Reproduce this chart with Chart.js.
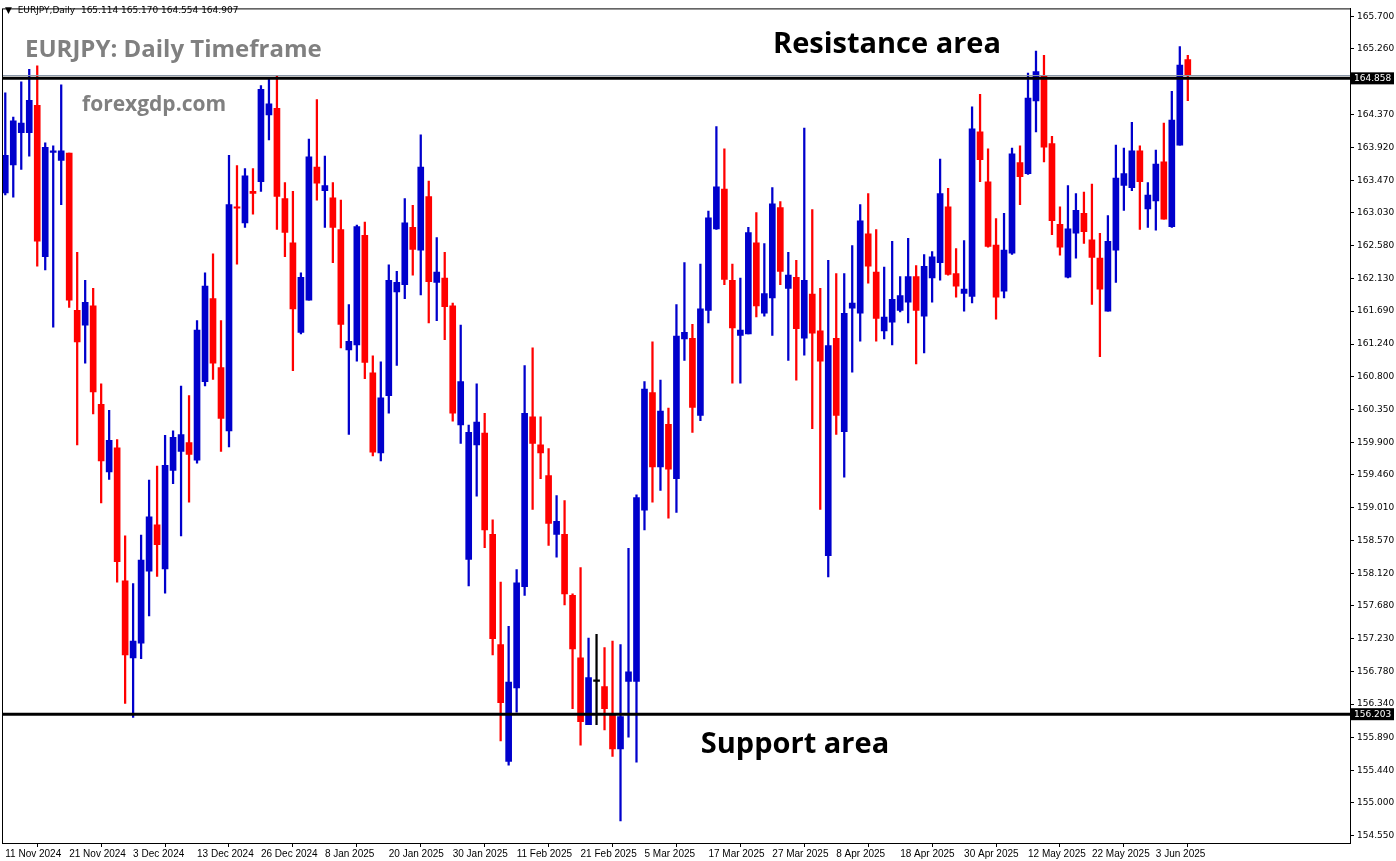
<!DOCTYPE html>
<html>
<head>
<meta charset="utf-8">
<script src="https://cdn.jsdelivr.net/npm/chart.js@4.4.1/dist/chart.umd.min.js"></script>
<style>
body{margin:0;background:#fff;}
canvas{display:block;}
</style>
</head>
<body>
<canvas id="mycanvas" width="1396" height="861"></canvas>
<script>
// daily candles, EURJPY, from 11 Nov 2024 (weekdays)
var opens = [163.30,163.68,164.12,164.12,164.49,162.43,163.85,163.74,163.84,161.70,161.50,161.76,160.42,159.50,159.83,158.02,156.97,157.17,158.15,158.78,
158.18,159.52,159.78,159.90,159.66,160.73,161.86,160.92,160.06,163.11,162.89,163.32,163.45,164.36,164.45,163.22,162.62,161.40,161.84,163.65,
163.33,163.23,162.80,161.16,161.23,162.72,160.85,159.76,160.54,161.95,162.05,162.83,162.52,163.25,162.08,162.14,161.76,160.14,158.31,159.87,
160.03,158.65,157.15,155.56,156.56,157.94,160.25,159.87,159.45,158.65,158.65,157.82,156.97,156.06,156.66,156.58,156.21,155.73,156.65,156.65,
158.98,160.58,159.57,160.15,159.41,161.31,161.32,160.27,161.70,162.81,163.35,162.11,161.36,161.38,162.62,161.66,161.87,163.10,162.00,162.15,
161.32,161.92,161.42,158.36,161.32,160.05,161.73,161.66,162.74,162.22,161.42,161.54,161.70,161.81,162.16,161.62,162.14,162.35,163.11,162.20,
161.93,161.89,164.13,163.45,162.59,161.96,162.48,163.71,163.56,164.55,164.90,163.97,162.87,162.15,162.75,163.02,162.66,162.41,161.69,162.52,
163.40,163.37,163.87,163.08,163.19,163.72,162.84,163.95,165.114];
var highs = [164.66,164.33,164.81,164.98,165.03,163.98,163.94,164.77,163.84,162.49,162.11,162.00,160.70,160.34,159.94,158.63,157.98,158.64,159.39,159.58,
160.00,160.06,160.67,160.54,161.56,162.21,162.47,161.56,163.81,163.67,163.63,163.63,164.76,164.86,164.90,163.44,163.32,162.21,164.03,164.57,
163.80,163.44,163.20,161.78,162.86,162.90,161.08,161.00,162.32,162.23,163.22,163.13,164.09,163.46,162.69,162.49,161.80,161.50,160.14,160.70,
160.30,158.85,158.00,157.40,158.17,160.95,161.19,160.25,159.82,159.18,159.11,157.84,158.20,157.24,157.29,157.11,157.20,157.15,158.46,159.19,
160.73,161.27,160.75,160.37,161.78,162.35,161.51,162.33,163.05,164.20,163.90,162.33,162.14,162.83,163.03,162.61,163.37,163.18,162.49,162.38,
164.18,163.07,162.00,162.38,162.20,162.20,162.58,163.14,163.29,162.80,162.29,162.64,162.16,162.68,162.31,162.46,162.50,163.76,163.36,162.54,
162.65,164.47,164.64,163.90,162.95,163.02,163.91,163.94,164.93,165.23,165.17,164.07,163.11,163.40,163.29,163.31,163.42,162.75,162.99,163.95,
163.91,164.26,163.94,163.44,163.88,164.25,164.68,165.29,165.170];
var lows = [163.27,163.24,163.62,163.80,162.30,162.25,161.47,163.14,161.74,159.87,160.98,160.29,159.08,159.40,158.00,156.35,156.16,156.96,157.54,158.08,
157.85,159.34,158.63,159.09,159.62,160.67,160.76,159.78,159.84,162.33,162.83,163.01,163.32,164.02,162.80,162.43,160.88,161.38,161.84,163.20,
162.83,162.35,161.19,160.01,161.01,160.77,159.72,159.65,160.30,160.95,161.86,162.18,161.91,161.53,161.56,161.30,160.19,159.89,157.95,159.17,
158.47,157.01,155.84,155.51,156.23,157.82,158.99,159.41,158.50,158.34,157.69,156.28,155.78,156.06,156.06,155.99,155.63,154.75,155.89,155.55,
158.71,159.09,159.25,158.87,158.95,161.02,160.04,160.20,161.53,162.80,162.05,160.71,160.71,161.38,161.61,161.62,161.36,162.05,161.02,160.75,
161.09,160.09,158.99,158.07,160.01,159.43,160.86,161.28,162.07,161.28,161.31,161.23,161.68,161.53,160.97,161.12,161.81,162.11,162.18,161.88,
161.69,161.80,163.45,162.56,161.58,161.87,162.46,163.14,163.55,164.13,163.72,162.73,162.45,162.14,162.41,162.61,161.78,161.07,161.69,162.08,
163.06,163.33,162.80,162.83,162.79,162.94,162.83,163.95,164.554];
var closes = [163.81,164.28,164.25,164.56,162.64,163.92,163.87,163.87,161.84,161.27,161.81,160.59,159.65,159.93,158.28,157.01,157.20,158.30,158.89,158.51,
159.59,159.97,160.01,159.74,161.43,162.03,160.98,160.23,163.14,163.09,163.53,163.29,164.71,164.51,163.25,162.76,161.72,162.15,163.79,163.43,
163.40,162.83,161.51,161.28,162.84,160.99,159.77,160.51,162.11,162.08,162.89,162.53,163.65,162.09,162.22,161.75,160.30,160.73,160.04,160.18,
158.71,157.23,156.36,156.64,157.99,160.30,159.89,159.76,158.80,158.83,157.84,157.09,156.10,156.70,156.66,156.28,155.73,156.17,156.78,159.15,
160.63,159.57,160.33,159.54,161.35,161.40,160.38,161.72,162.96,163.38,162.12,161.46,161.43,162.76,161.76,161.93,163.15,162.23,162.18,161.45,
162.11,161.39,161.01,161.22,160.27,161.66,161.80,162.92,162.30,161.59,161.61,161.85,161.90,162.16,161.70,162.30,162.43,163.29,162.19,162.03,
161.99,164.17,163.75,162.57,161.88,162.52,163.83,163.52,164.59,164.95,163.92,162.92,162.56,162.81,163.06,162.77,162.42,161.99,162.64,163.50,
163.56,163.87,163.45,163.27,163.69,162.94,164.29,165.04,164.907];

var tickLabels = ['11 Nov 2024','21 Nov 2024','3 Dec 2024','13 Dec 2024','26 Dec 2024','8 Jan 2025','20 Jan 2025','30 Jan 2025',
  '11 Feb 2025','21 Feb 2025','5 Mar 2025','17 Mar 2025','27 Mar 2025','8 Apr 2025','18 Apr 2025','30 Apr 2025','12 May 2025','22 May 2025','3 Jun 2025'];
var tickBars = [0,8,16,24,32,40,48,56,64,72,80,88,96,104,112,120,128,136,144];
var priceTicks = [165.700,165.260,164.370,163.920,163.470,163.030,162.580,162.130,161.690,161.240,160.800,160.350,159.900,159.460,
  159.010,158.570,158.120,157.680,157.230,156.780,156.340,155.890,155.440,155.000,154.550];
var resistance = 164.858, support = 156.203, lastClose = 164.907;

var wicks = [], bodies = [], cols = [];
for (var i = 0; i < opens.length; i++) {
  wicks.push({x: i, y: [lows[i], highs[i]]});
  var o = opens[i], c = closes[i];
  if (Math.abs(o - c) < 0.015) bodies.push({x: i, y: [o - 0.012, o + 0.012]});
  else bodies.push({x: i, y: [o, c]});
  cols.push(c > o ? '#0000CC' : (c < o ? '#FF0000' : '#000000'));
}

var overlay = {
  id: 'overlay',
  afterDatasetsDraw: function(chart) {
    var ctx = chart.ctx, a = chart.chartArea, ys = chart.scales.y;
    ctx.save();
    // last price line
    var yl = Math.round(ys.getPixelForValue(lastClose)) + 0.5;
    ctx.strokeStyle = '#8a97a8'; ctx.lineWidth = 1;
    ctx.beginPath(); ctx.moveTo(a.left, yl); ctx.lineTo(a.right, yl); ctx.stroke();
    // levels
    ctx.strokeStyle = '#000'; ctx.lineWidth = 3;
    [resistance, support].forEach(function(v) {
      var y = ys.getPixelForValue(v);
      ctx.beginPath(); ctx.moveTo(a.left, y); ctx.lineTo(a.right, y); ctx.stroke();
    });
    // frame
    ctx.lineWidth = 1;
    ctx.strokeRect(a.left + 0.5, a.top + 0.5, a.right - a.left, a.bottom - a.top);
    // price tags
    ctx.font = '9px "DejaVu Sans"'; ctx.textBaseline = 'middle';
    [resistance, support].forEach(function(v) {
      var y = ys.getPixelForValue(v);
      ctx.fillStyle = '#000'; ctx.fillRect(a.right + 1, y - 6, 43, 12);
      ctx.fillStyle = '#fff'; ctx.textAlign = 'left';
      ctx.fillText(v.toFixed(3), a.right + 4, y + 0.5);
    });
    // texts
    ctx.fillStyle = '#000'; ctx.font = '9px "DejaVu Sans"'; ctx.textAlign = 'left';
    ctx.fillText('\u25BC  EURJPY,Daily  165.114 165.170 164.554 164.907', 5, 11);
    ctx.fillStyle = '#808080'; ctx.font = 'bold 24px "Open Sans"';
    ctx.fillText('EURJPY: Daily Timeframe', 25, 50);
    ctx.font = 'bold 21px "Open Sans"';
    ctx.fillText('forexgdp.com', 82, 105);
    ctx.fillStyle = '#000'; ctx.font = 'bold 29px "Open Sans"'; ctx.textAlign = 'center';
    ctx.fillText('Resistance area', 887, 45);
    ctx.fillText('Support area', 795, 745);
    ctx.restore();
  }
};

var chartdata = {
  datasets: [
    {data: wicks, backgroundColor: cols, borderWidth: 0, barThickness: 1.6, grouped: false, order: 2},
    {data: bodies, backgroundColor: cols, borderWidth: 0, barThickness: 6, grouped: false, order: 1}
  ]
};

var ctx = document.getElementById('mycanvas');
var candleChart = new Chart(ctx, {
  type: 'bar',
  data: chartdata,
  options: {
    responsive: false,
    animation: false,
    devicePixelRatio: 1,
    layout: {padding: {top: 5, left: 2, right: 0, bottom: 0}},
    plugins: {legend: {display: false}, tooltip: {enabled: false}},
    scales: {
      x: {
        type: 'linear', min: -0.41, max: 168.3, offset: false,
        afterFit: function(s) { s.height = 18; },
        afterBuildTicks: function(s) { s.ticks = tickBars.map(function(v) { return {value: v}; }); },
        ticks: {autoSkip: false, maxRotation: 0, align: 'start', padding: 1, color: '#000',
          font: {family: 'Liberation Sans', size: 10},
          callback: function(v) { var k = tickBars.indexOf(v); return k >= 0 ? tickLabels[k] : ''; }},
        grid: {drawOnChartArea: false, tickLength: 4, color: '#000'},
        border: {display: true, color: '#000'}
      },
      y: {
        position: 'right', min: 154.45, max: 165.81,
        afterFit: function(s) { s.width = 46; },
        afterBuildTicks: function(s) { s.ticks = priceTicks.map(function(v) { return {value: v}; }); },
        ticks: {autoSkip: false, padding: 3, color: '#000', font: {family: 'DejaVu Sans', size: 9},
          callback: function(v) { return v.toFixed(3); }},
        grid: {drawOnChartArea: false, tickLength: 4, color: '#000'},
        border: {display: true, color: '#000'}
      }
    }
  },
  plugins: [overlay]
});
</script>
</body>
</html>
